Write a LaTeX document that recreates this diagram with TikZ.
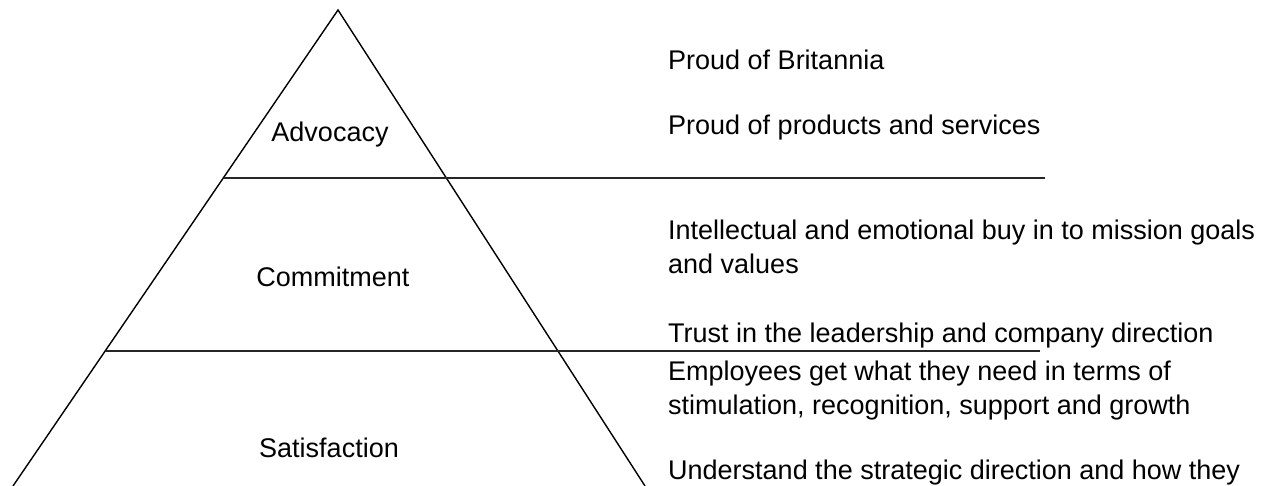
\documentclass[tikz,border=0pt]{standalone}
\usepackage{fontspec}
\setmainfont{Liberation Sans}
\begin{document}
\begin{tikzpicture}[x=1bp,y=1bp,
  edge/.style={line width=1.4bp, black},
  tier/.style={line width=1.6bp, black!85},
  lbl/.style={inner sep=0pt, font=\fontsize{27bp}{34bp}\selectfont, anchor=base west},
  tiername/.style={inner sep=0pt, font=\fontsize{27bp}{34bp}\selectfont, anchor=base}]
\useasboundingbox (0,0) rectangle (1268,486);
\begin{scope}
  \clip (0,0) rectangle (1268,486);
  % pyramid outline
  \coordinate (apex) at (338,476);
  \coordinate (bl) at (13,0);
  \coordinate (br) at (645,0);
  \draw[edge] (bl) -- (apex) -- (br);
  % tier dividers
  \coordinate (d1a) at (224,308);
  \coordinate (d1b) at (1045,308);
  \coordinate (d2a) at (106,135);
  \coordinate (d2b) at (1040,135);
  \draw[tier] (d1a) -- (d1b);
  \draw[tier] (d2a) -- (d2b);
  % tier names
  \node[tiername] (adv) at (330,344) {Advocacy};
  \node[tiername] (com) at (333,199) {Commitment};
  \node[tiername] (sat) at (329,28) {Satisfaction};
  % descriptions
  \node[lbl] (a1) at (668,416) {Proud of Britannia};
  \node[lbl] (a2) at (668,351) {Proud of products and services};
  \node[lbl] (c1) at (668,246) {Intellectual and emotional buy in to mission goals};
  \node[lbl] (c2) at (668,212) {and values};
  \node[lbl] (c3) at (668,143) {Trust in the leadership and company direction};
  \node[lbl] (s1) at (668,105) {Employees get what they need in terms of};
  \node[lbl] (s2) at (668,71) {stimulation, recognition, support and growth};
  \node[lbl] (s3) at (668,6) {Understand the strategic direction and how they};
\end{scope}
\end{tikzpicture}
\end{document}
